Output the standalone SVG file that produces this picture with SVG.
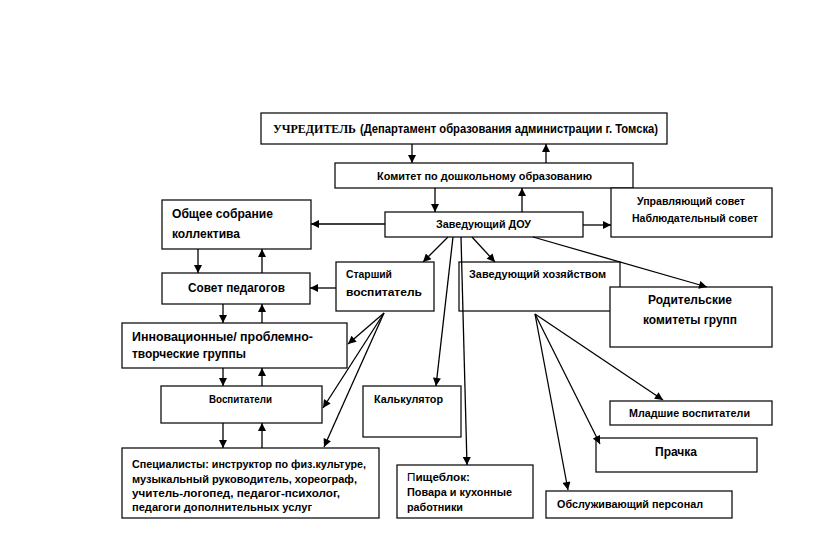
<svg xmlns="http://www.w3.org/2000/svg" width="820" height="534" viewBox="0 0 820 534">
<defs>
<marker id="ah" viewBox="0 0 10 10" refX="10" refY="5" markerWidth="9" markerHeight="8" markerUnits="userSpaceOnUse" orient="auto">
<path d="M0,0 L10,5 L0,10 z" fill="#000"/>
</marker>
<style>
.box{fill:#fff;stroke:#111;stroke-width:1.3}
.t{font-family:"Liberation Sans",Arial,sans-serif;font-weight:bold;fill:#000}
.s{font-size:11px}
.m{font-size:11.5px}
.l{font-size:13px}
.c{stroke:#000;stroke-width:1.3;fill:none;marker-end:url(#ah)}
</style>
</defs>
<rect width="820" height="534" fill="#fff"/>

<g id="uchreditel">
<rect class="box" x="261" y="113" width="406" height="31"/>
<text x="273" y="133" font-size="13"><tspan font-family="'Liberation Serif','Times New Roman',serif" font-weight="bold" textLength="83" lengthAdjust="spacingAndGlyphs">УЧРЕДИТЕЛЬ</tspan><tspan class="t" x="360" textLength="298" lengthAdjust="spacingAndGlyphs">(Департамент образования администрации г. Томска)</tspan></text>
</g>

<g id="komitet">
<rect class="box" x="335" y="163" width="298" height="25"/>
<text class="t m" x="377" y="180" textLength="215" lengthAdjust="spacingAndGlyphs">Комитет по дошкольному образованию</text>
</g>

<g id="zav-dou">
<rect class="box" x="385" y="212" width="198" height="25"/>
<text class="t m" x="436" y="228" textLength="95" lengthAdjust="spacingAndGlyphs">Заведующий ДОУ</text>
</g>

<g id="obshee-sobranie">
<rect class="box" x="162" y="200" width="149" height="49"/>
<text class="t l" x="172" y="218" textLength="101" lengthAdjust="spacingAndGlyphs">Общее собрание</text>
<text class="t l" x="172" y="238" textLength="68" lengthAdjust="spacingAndGlyphs">коллектива</text>
</g>

<g id="upravl-sovet">
<rect class="box" x="611" y="188" width="161" height="49"/>
<text class="t s" x="637" y="205" textLength="108" lengthAdjust="spacingAndGlyphs">Управляющий совет</text>
<text class="t s" x="632" y="222" textLength="126" lengthAdjust="spacingAndGlyphs">Наблюдательный совет</text>
</g>

<g id="sovet-pedagogov">
<rect class="box" x="162" y="273" width="148" height="31"/>
<text class="t l" x="188" y="292" textLength="97" lengthAdjust="spacingAndGlyphs">Совет педагогов</text>
</g>

<g id="starshiy">
<rect class="box" x="336" y="262" width="98" height="49"/>
<text class="t s" x="346" y="278" textLength="46" lengthAdjust="spacingAndGlyphs">Старший</text>
<text class="t s" x="346" y="296" textLength="76" lengthAdjust="spacingAndGlyphs">воспитатель</text>
</g>

<g id="zav-hoz">
<rect class="box" x="459" y="262" width="161" height="49"/>
<text class="t s" x="469" y="278" textLength="137" lengthAdjust="spacingAndGlyphs">Заведующий хозяйством</text>
</g>

<g id="roditelskie">
<rect class="box" x="610" y="287" width="162" height="60"/>
<text class="t l" x="648" y="304" textLength="84" lengthAdjust="spacingAndGlyphs">Родительские</text>
<text class="t l" x="643" y="324" textLength="94" lengthAdjust="spacingAndGlyphs">комитеты групп</text>
</g>

<g id="innovac">
<rect class="box" x="122" y="323" width="225" height="45"/>
<text class="t l" x="132" y="341" textLength="181" lengthAdjust="spacingAndGlyphs">Инновационные/ проблемно-</text>
<text class="t l" x="132" y="358" textLength="114" lengthAdjust="spacingAndGlyphs">творческие группы</text>
</g>

<g id="vospitateli">
<rect class="box" x="161" y="386" width="161" height="37"/>
<text class="t s" x="209" y="403" textLength="63" lengthAdjust="spacingAndGlyphs">Воспитатели</text>
</g>

<g id="kalkulyator">
<rect class="box" x="363" y="386" width="98" height="51"/>
<text class="t s" x="374" y="403" textLength="69" lengthAdjust="spacingAndGlyphs">Калькулятор</text>
</g>

<g id="specialisty">
<rect class="box" x="122" y="448" width="257" height="70"/>
<text class="t s" x="132" y="468" textLength="234" lengthAdjust="spacingAndGlyphs">Специалисты: инструктор по физ.культуре,</text>
<text class="t s" x="132" y="483" textLength="225" lengthAdjust="spacingAndGlyphs">музыкальный руководитель,  хореограф,</text>
<text class="t s" x="132" y="497" textLength="208" lengthAdjust="spacingAndGlyphs">учитель-логопед, педагог-психолог,</text>
<text class="t s" x="132" y="511" textLength="180" lengthAdjust="spacingAndGlyphs">педагоги дополнительных  услуг</text>
</g>

<g id="pisheblok">
<rect class="box" x="397" y="465" width="136" height="53"/>
<text class="t s" x="407" y="481" textLength="63" lengthAdjust="spacingAndGlyphs"><tspan font-weight="normal">П</tspan>ищеблок:</text>
<text class="t s" x="407" y="496" textLength="105" lengthAdjust="spacingAndGlyphs">Повара и кухонные</text>
<text class="t s" x="407" y="511" textLength="56" lengthAdjust="spacingAndGlyphs">работники</text>
</g>

<g id="obsluzh">
<rect class="box" x="546" y="491" width="186" height="27"/>
<text class="t s" x="557" y="508" textLength="146" lengthAdjust="spacingAndGlyphs">Обслуживающий персонал</text>
</g>

<g id="prachka">
<rect class="box" x="596" y="438" width="161" height="34"/>
<text class="t l" x="655" y="456" textLength="42" lengthAdjust="spacingAndGlyphs">Прачка</text>
</g>

<g id="mladshie">
<rect class="box" x="610" y="401" width="162" height="24"/>
<text class="t s" x="629" y="417" textLength="121" lengthAdjust="spacingAndGlyphs">Младшие воспитатели</text>
</g>

<g id="connectors">
<line class="c" x1="412" y1="144" x2="412" y2="163"/>
<line class="c" x1="546" y1="163" x2="546" y2="144"/>
<line class="c" x1="435" y1="188" x2="435" y2="212"/>
<line class="c" x1="522" y1="212" x2="522" y2="188"/>
<line class="c" x1="385" y1="224" x2="311" y2="224"/>
<line class="c" x1="583" y1="225" x2="611" y2="225"/>
<line class="c" x1="198" y1="249" x2="198" y2="273"/>
<line class="c" x1="262" y1="273" x2="262" y2="249"/>
<line class="c" x1="336" y1="288" x2="310" y2="288"/>
<line class="c" x1="223" y1="304" x2="223" y2="323"/>
<line class="c" x1="262" y1="323" x2="262" y2="304"/>
<line class="c" x1="223" y1="368" x2="223" y2="386"/>
<line class="c" x1="262" y1="386" x2="262" y2="368"/>
<line class="c" x1="223" y1="423" x2="223" y2="448"/>
<line class="c" x1="262" y1="448" x2="262" y2="423"/>
<line class="c" x1="448" y1="237" x2="423" y2="262"/>
<line class="c" x1="472" y1="237" x2="495" y2="262"/>
<line class="c" x1="453" y1="237" x2="436" y2="386"/>
<line class="c" x1="461" y1="237" x2="467" y2="465"/>
<line class="c" x1="533" y1="237" x2="707" y2="287"/>
<line class="c" x1="384" y1="313" x2="348" y2="344"/>
<line class="c" x1="384" y1="313" x2="323" y2="408"/>
<line class="c" x1="384" y1="313" x2="324" y2="447"/>
<line class="c" x1="535" y1="314" x2="663" y2="400"/>
<line class="c" x1="535" y1="314" x2="600" y2="444"/>
<line class="c" x1="535" y1="314" x2="568" y2="490"/>
</g>
</svg>
